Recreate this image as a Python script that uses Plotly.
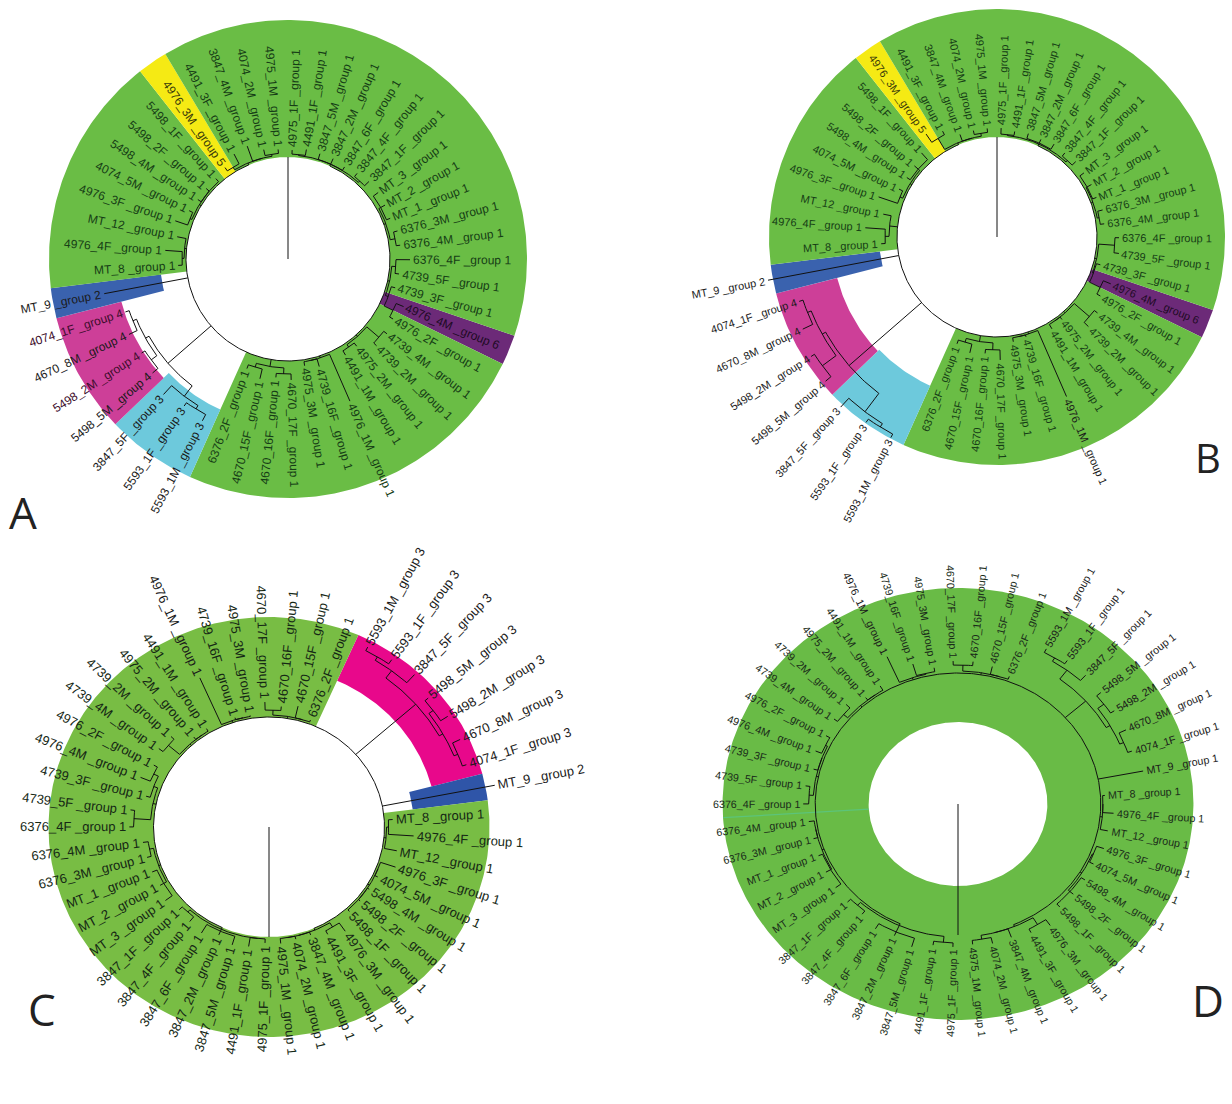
import math
import plotly.graph_objects as go

W, H = 1232, 1104

# ---------------- data ----------------
leaf_names = ["4975_1F", "4491_1F", "3847_5M", "3847_2M", "3847_6F", "3847_4F", "3847_1F", "MT_3", "MT_2", "MT_1",
              "6376_3M", "6376_4M", "6376_4F", "4739_5F", "4739_3F", "4976_4M", "4976_2F", "4739_4M", "4739_2M", "4975_2M",
              "4491_1M", "4976_1M", "4739_16F", "4975_3M", "4670_17F", "4670_16F", "4670_15F", "6376_2F", "5593_1M", "5593_1F",
              "3847_5F", "5498_5M", "5498_2M", "4670_8M", "4074_1F", "MT_9", "MT_8", "4976_4F", "MT_12", "4976_3F",
              "4074_5M", "5498_4M", "5498_2F", "5498_1F", "4976_3M", "4491_3F", "3847_4M", "4074_2M", "4975_1M"]

groups_A = [1, 1, 1, 1, 1, 1, 1, 1, 1, 1,
            1, 1, 1, 1, 1, 6, 1, 1, 1, 1,
            1, 1, 1, 1, 1, 1, 1, 1, 3, 3,
            3, 4, 4, 4, 4, 2, 1, 1, 1, 1,
            1, 1, 1, 1, 5, 1, 1, 1, 1]
groups_B = [1, 1, 1, 1, 1, 1, 1, 1, 1, 1,
            1, 1, 1, 1, 1, 6, 1, 1, 1, 1,
            1, 1, 1, 1, 1, 1, 1, 1, 3, 3,
            3, 4, 4, 4, 4, 2, 1, 1, 1, 1,
            1, 1, 1, 1, 5, 1, 1, 1, 1]
groups_C = [1, 1, 1, 1, 1, 1, 1, 1, 1, 1,
            1, 1, 1, 1, 1, 1, 1, 1, 1, 1,
            1, 1, 1, 1, 1, 1, 1, 1, 3, 3,
            3, 3, 3, 3, 3, 2, 1, 1, 1, 1,
            1, 1, 1, 1, 1, 1, 1, 1, 1]
groups_D = [1, 1, 1, 1, 1, 1, 1, 1, 1, 1,
            1, 1, 1, 1, 1, 1, 1, 1, 1, 1,
            1, 1, 1, 1, 1, 1, 1, 1, 1, 1,
            1, 1, 1, 1, 1, 1, 1, 1, 1, 1,
            1, 1, 1, 1, 1, 1, 1, 1, 1]

# branch tip distance from the centre (tree units) for each leaf
tips_A = [109, 111, 110, 110, 108, 110, 112, 112, 111, 110,
          113, 113, 122, 112, 111, 125, 121, 124, 124, 111,
          112, 155, 112, 108, 121, 119, 123, 117, 183, 180,
          184, 177, 174, 176, 171, 187, 110, 123, 113, 119,
          110, 108, 108, 108, 111, 118, 120, 112, 110]
tips_B = [109, 107, 108, 107, 109, 108, 109, 108, 108, 107,
          109, 108, 122, 123, 107, 123, 119, 126, 128, 105,
          107, 174, 104, 106, 123, 117, 119, 114, 227, 227,
          231, 224, 221, 215, 208, 233, 116, 132, 116, 125,
          109, 108, 109, 113, 125, 119, 109, 109, 109]
tips_C = [116, 121, 123, 118, 124, 121, 119, 123, 119, 120,
          120, 121, 133, 133, 121, 132, 126, 131, 130, 115,
          115, 163, 114, 113, 125, 121, 124, 114, 203, 204,
          206, 199, 203, 202, 198, 219, 118, 138, 124, 127,
          115, 114, 114, 114, 127, 121, 115, 115, 117]
tips_D = [143, 143, 149, 144, 146, 141, 141, 140, 139, 138,
          137, 138, 142, 141, 137, 141, 139, 142, 143, 136,
          138, 161, 146, 138, 143, 143, 141, 136, 175, 175,
          174, 172, 171, 171, 168, 173, 135, 143, 140, 141,
          138, 139, 139, 139, 148, 145, 142, 143, 141]

# tree topology (leaf indices)
tree_topology = (
    ((0, 1), (2, 3, 4), (5, 6)),
    ((7, 8, 9), (10, 11)),
    ((12, 13), (14, (15, 16))),
    ((17, 18), (19, 20)),
    (21, (22, 23)),
    ((24, 25), (26, 27)),
    (((28, 29), 30), ((31, 32), (33, 34))),
    35,
    ((36, 37), 38),
    ((39, 40), (41, 42, 43)),
    ((44, 45), (46, (47, 48))),
)

# ---------------- styling / layout ----------------
FONT = "Arial, 'Liberation Sans', sans-serif"
ARIAL = {'0': .556, '1': .556, '2': .556, '3': .556, '4': .556, '5': .556, '6': .556, '7': .556,
         '8': .556, '9': .556, '_': .556, 'M': .833, 'F': .611, 'T': .611, ' ': .278,
         'g': .556, 'r': .333, 'o': .556, 'u': .556, 'p': .556}


def text_width(s, size):
    return sum(ARIAL.get(c, 0.556) for c in s) * size


panels = [
    dict(letter="A", lpos=(23, 512, 44), ax="", box=(0, 0, 616, 552), center=(288, 259), sx=1.0, sy=1.0,
         start=0.0, rot=-1.5, arc=102, outer=239,
         inner={1: 102, 2: 128, 3: 165, 4: 172, 5: 102, 6: 102},
         colors={1: "#6abd45", 2: "#3a62ae", 3: "#6dc9dc", 4: "#cd3f98", 5: "#f5ea14", 6: "#6c2a78"},
         dark={1: "#163d16", 2: "#101f45", 3: "#163c45", 4: "#3d0d2c", 5: "#3a3a0a", 6: "#200a24"},
         font=12, groups=groups_A, tips=tips_A, seam=0, seam_line=False),
    dict(letter="B", lpos=(1208, 457, 40), ax="2", box=(616, 0, 1232, 552), center=(997, 237), sx=1.0, sy=1.0,
         start=0.0, rot=-1.5, arc=100, outer=228,
         inner={1: 100, 2: 118, 3: 163, 4: 165, 5: 100, 6: 100},
         colors={1: "#6abd45", 2: "#3a62ae", 3: "#6dc9dc", 4: "#cd3f98", 5: "#f5ea14", 6: "#6c2a78"},
         dark={1: "#163d16", 2: "#101f45", 3: "#163c45", 4: "#3d0d2c", 5: "#3a3a0a", 6: "#200a24"},
         font=11, groups=groups_B, tips=tips_B, seam=0, seam_line=False),
    dict(letter="C", lpos=(42, 1009, 44), ax="3", box=(0, 552, 616, 1104), center=(269, 827), sx=1.05, sy=1.0,
         start=180.0, rot=-1.8, arc=110, outer=210,
         inner={1: 110, 2: 138, 3: 160},
         colors={1: "#78bd44", 2: "#2f55a8", 3: "#e8088b"},
         dark={1: "#152815", 2: "#101f45", 3: "#3a0424"},
         font=13, groups=groups_C, tips=tips_C, seam=0, seam_line=False),
    dict(letter="D", lpos=(1208, 1000, 44), ax="4", box=(616, 552, 1232, 1104), center=(958, 804), sx=1.09, sy=1.0,
         start=180.0, rot=-1.8, arc=131, outer=216,
         inner={1: 82},
         colors={1: "#69bb46"},
         dark={1: "#1a2c1a"},
         font=10.7, groups=groups_D, tips=tips_D, seam=12, seam_line=True),
]

N = len(leaf_names)
STEP = 360.0 / N

fig = go.Figure()
annotations = []
layout_axes = {}


def pol(r, phi):
    a = math.radians(phi)
    return r * math.sin(a), r * math.cos(a)


def arc_pts(r, p1, p2):
    n = max(2, int(abs(p2 - p1) / 0.75) + 1)
    return [pol(r, p1 + (p2 - p1) * k / (n - 1)) for k in range(n)]


for p in panels:
    xr = "x" + p["ax"]
    yr = "y" + p["ax"]
    x0, y0, x1, y1 = p["box"]
    cx, cy = p["center"]
    sx, sy = p["sx"], p["sy"]
    layout_axes["xaxis" + p["ax"]] = dict(domain=[x0 / W, x1 / W], range=[(x0 - cx) / sx, (x1 - cx) / sx],
                                           visible=False, fixedrange=True, anchor=yr)
    layout_axes["yaxis" + p["ax"]] = dict(domain=[1 - y1 / H, 1 - y0 / H], range=[(cy - y1) / sy, (cy - y0) / sy],
                                           visible=False, fixedrange=True, anchor=xr)

    g = p["groups"]
    tips = p["tips"]

    def leaf_phi(i, p=p):
        return p["start"] + p["rot"] + (i + 0.5) * STEP

    # ---- coloured bands (merged runs of equal group) ----
    changes = [i for i in range(N) if g[i] != g[i - 1]]
    s0 = changes[0] if changes else p["seam"]
    runs = []
    for k in range(s0, s0 + N):
        grp = g[k % N]
        if runs and runs[-1][0] == grp:
            runs[-1][2] = k
        else:
            runs.append([grp, k, k])
    for grp, a, b in runs:
        pa = leaf_phi(a) - STEP / 2
        pb = leaf_phi(b) + STEP / 2
        outer = arc_pts(p["outer"], pa, pb)
        inner = arc_pts(p["inner"][grp], pb, pa)
        pts = outer + inner + [outer[0]]
        fig.add_trace(go.Scatter(x=[q[0] for q in pts], y=[q[1] for q in pts], mode="lines",
                                 fill="toself", fillcolor=p["colors"][grp], line=dict(width=0),
                                 xaxis=xr, yaxis=yr, hoverinfo="skip", showlegend=False))

    if p["seam_line"]:
        ps = leaf_phi(p["seam"]) - STEP / 2
        q1, q2 = pol(p["inner"][1], ps), pol(p["outer"], ps)
        fig.add_trace(go.Scatter(x=[q1[0], q2[0]], y=[q1[1], q2[1]], mode="lines",
                                 line=dict(color="#5cc47a", width=1.2), xaxis=xr, yaxis=yr,
                                 hoverinfo="skip", showlegend=False))

    # ---- tree branches ----
    xs, ys = [], []

    def add(pts):
        for q in pts:
            xs.append(q[0])
            ys.append(q[1])
        xs.append(None)
        ys.append(None)

    def build(node, p=p, tips=tips):
        if isinstance(node, int):
            return tips[node], leaf_phi(node)
        kids = [build(k) for k in node]
        r = max(p["arc"] + 2, min(k[0] for k in kids) - 4)
        phis = [k[1] for k in kids]
        add(arc_pts(r, min(phis), max(phis)))
        for rk, pk in kids:
            add([pol(r, pk), pol(rk, pk)])
        return r, (min(phis) + max(phis)) / 2

    kids = [build(k) for k in tree_topology]
    phis = [k[1] for k in kids]
    add(arc_pts(p["arc"], min(phis), max(phis)))
    for rk, pk in kids:
        add([pol(p["arc"], pk), pol(rk, pk)])
    add([pol(0, p["start"]), pol(p["arc"], p["start"])])
    fig.add_trace(go.Scatter(x=xs, y=ys, mode="lines", line=dict(color="#111111", width=1),
                             xaxis=xr, yaxis=yr, hoverinfo="skip", showlegend=False))

    # ---- leaf labels ----
    for i in range(N):
        phi = leaf_phi(i)
        a = math.radians(phi)
        vx, vy = sx * math.sin(a), sy * math.cos(a)
        ppu = math.hypot(vx, vy)
        txt = f"{leaf_names[i]} _group {g[i]}"
        L = text_width(txt, p["font"]) / ppu
        rs = tips[i] + 3
        rm = rs + L / 2
        x, y = pol(rm, phi)
        theta = math.degrees(math.atan2(-vy, vx))
        if vx < 0:
            theta -= 180
        while theta > 180:
            theta -= 360
        while theta < -180:
            theta += 360
        col = p["dark"][g[i]] if rm < p["outer"] - 10 else "#1a1a1a"
        annotations.append(dict(x=x, y=y, xref=xr, yref=yr, text=txt, showarrow=False,
                                textangle=theta, xanchor="center", yanchor="middle",
                                font=dict(size=p["font"], color=col, family=FONT)))

    lx, ly, lsize = p["lpos"]
    annotations.append(dict(x=lx / W, y=1 - ly / H, xref="paper", yref="paper", text=p["letter"],
                            showarrow=False, xanchor="center", yanchor="middle",
                            font=dict(size=lsize, color="#222222", family="'Open Sans', Lato, sans-serif")))

fig.update_layout(width=W, height=H, margin=dict(l=0, r=0, t=0, b=0),
                  paper_bgcolor="white", plot_bgcolor="rgba(0,0,0,0)",
                  showlegend=False, annotations=annotations, **layout_axes)

fig.write_html("out.html")
